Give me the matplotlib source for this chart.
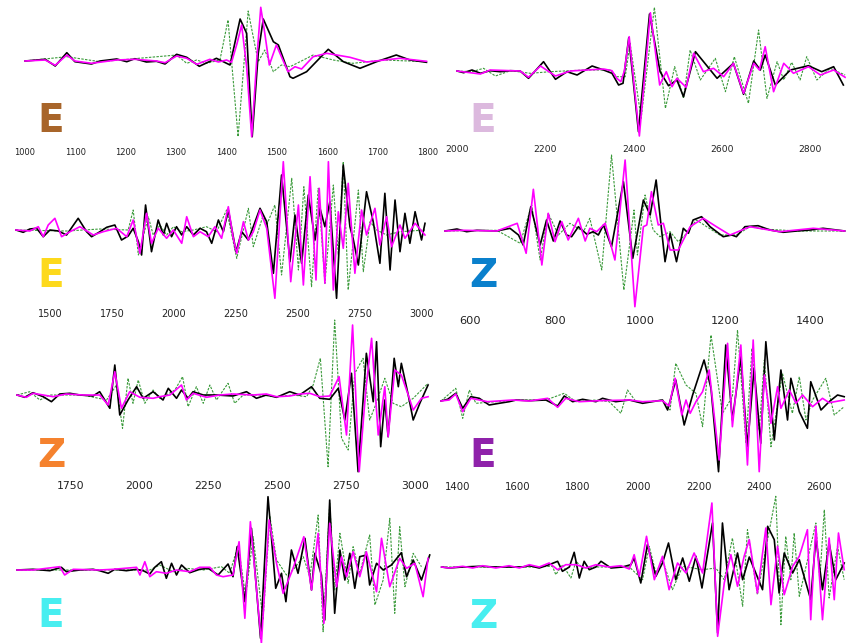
import matplotlib
matplotlib.use("Agg")
import matplotlib.pyplot as plt

W, H = 846, 643

# ---- waveforms: (time, amplitude) ----
# black = observed, magenta = synthetic 1, green dashed = synthetic 2
P1_OBS = [(1000, 0), (1040, 1.7), (1060, -5), (1083, 8.3), (1099, -0.7), (1132, -3), (1149, 0),
          (1182, 2), (1202, -0.7), (1218, 2.3), (1241, -1), (1261, -0.3), (1278, -3), (1301, 6.7),
          (1321, 3.7), (1346, -5.3), (1380, 2.7), (1407, -4), (1427, 42), (1440, 27.7), (1451, -75.7),
          (1463, 7.7), (1473, 42), (1493, 19.3), (1503, 16), (1526, -15.7), (1532, -17.3),
          (1559, -10.7), (1602, 11.7), (1632, -0.7), (1665, -7.3), (1698, -0.7), (1737, 6),
          (1764, 1), (1797, -1.3)]
P1_SYN = [(1000, 0), (1040, 1), (1060, -4.3), (1083, 6), (1099, 0), (1132, -2.3), (1182, 1),
          (1218, 1.7), (1261, 0), (1278, -1.7), (1301, 5), (1321, 2.7), (1341, -3.3), (1367, 1.7),
          (1384, -1), (1400, 1), (1410, -1.3), (1421, 17.7), (1430, 36), (1440, -5.7), (1450, -75.7),
          (1460, 1), (1468, 53.7), (1476, 27.7), (1485, -4), (1499, 16), (1509, 4.3), (1522, -10.7),
          (1536, -5.7), (1549, -8), (1572, 4.3), (1599, 7.7), (1645, 3.7), (1678, -1), (1744, 2.7),
          (1797, -0.3)]
P1_ALT = [(1000, 0), (1083, 4.3), (1149, -0.7), (1301, 6), (1321, -2.3), (1341, 1), (1360, -2.3),
          (1387, 1), (1403, 41), (1423, -75.7), (1443, 50), (1453, 24.3), (1463, -0.7), (1476, 11),
          (1493, -10.7), (1509, -4), (1526, -5.7), (1546, -0.7), (1572, 6), (1612, 1), (1651, -2.3),
          (1711, 1), (1797, -0.7)]

P2_OBS = [(2000, 0), (2015, -1.7), (2034, 1), (2053, -2.3), (2075, 0.3), (2098, -0.7), (2121, 0.3),
          (2143, 0), (2162, -7.3), (2196, 9.3), (2223, -8.3), (2249, -0.7), (2272, -4), (2306, 5),
          (2332, 1), (2351, -2.3), (2366, -14), (2376, -12.3), (2389, 33.3), (2411, -60.7),
          (2436, 57), (2460, -0.7), (2479, -14.7), (2498, -9), (2513, -25.7), (2540, 19.3),
          (2589, -7.3), (2626, 7.7), (2649, -23.3), (2672, 10), (2687, 1), (2698, 16), (2721, -14),
          (2755, 1), (2796, 5.3), (2826, -0.7), (2853, 4.3), (2875, -14)]
P2_SYN = [(2000, 0), (2053, -3), (2075, 1), (2143, 0), (2162, -6.3), (2189, 5), (2223, -5),
          (2257, 0), (2294, 1), (2332, 2), (2351, 0.3), (2362, -7.3), (2371, -10.7), (2379, 0),
          (2390, 34.3), (2413, -65), (2438, 58.3), (2459, -14), (2474, -0.7), (2487, -15.7),
          (2498, -7.3), (2519, -16.3), (2536, 17.7), (2558, -0.7), (2581, 2.7), (2604, -5.7),
          (2626, 7.7), (2649, -22.3), (2672, 7.7), (2685, 1), (2698, 24.3), (2717, -20.7),
          (2740, 7.7), (2762, -2.3), (2796, 4.3), (2823, -4), (2853, 1), (2879, -6.3)]
P2_ALT = [(2000, 0), (2034, -0.7), (2060, 2.7), (2087, -5), (2121, 0.3), (2166, -2.3), (2211, -0.7),
          (2287, 1), (2347, 1), (2362, -5.7), (2381, -5.7), (2392, 27.7), (2417, -47.3), (2447, 63.7),
          (2472, -37.3), (2493, 4.3), (2513, -27.3), (2528, 21), (2551, -9), (2585, 12.7),
          (2608, -20.7), (2628, 14.3), (2660, -32.3), (2683, 41), (2702, -27.3), (2725, 9.3),
          (2740, -9), (2758, 8.7), (2777, -9), (2792, 14.3), (2815, -9), (2845, 2.7), (2879, -4)]

P3_OBS = [(1363, 0), (1392, -2.3), (1419, 1), (1446, 1.7), (1473, -6.7), (1500, 0), (1534, -1),
          (1567, -5), (1614, 11.7), (1648, -1.7), (1668, -6.7), (1702, -1.7), (1729, 2.7),
          (1762, 5), (1789, -10), (1816, -6), (1836, 1.7), (1857, -11.7), (1870, -25), (1886, 25),
          (1910, -21.7), (1937, 10), (1958, -5), (1971, 6.7), (1991, -6.7), (2011, 3.3),
          (2032, -5), (2052, 3.3), (2079, -5), (2106, 1.7), (2132, -1.7), (2153, -13.3),
          (2180, 10), (2200, -1.7), (2220, 20), (2240, -6.7), (2251, -21.7), (2274, -1.7),
          (2301, -10), (2348, 21.7), (2375, 8.3), (2402, -43.3), (2435, 55), (2469, -31.7),
          (2489, 15), (2516, -33.3), (2543, 35), (2570, -10), (2590, 21.7), (2610, 3.3),
          (2630, 28.3), (2657, -68.3), (2684, 65), (2711, 3.3), (2725, -10), (2745, -35),
          (2778, 38.3), (2805, 8.3), (2832, -33.3), (2852, 36.7), (2873, -40), (2893, 30),
          (2913, -21.7), (2933, 16.7), (2953, -13.3), (2974, 18.3), (3000, -10), (3014, 6.7)]
P3_SYN = [(1363, 0), (1419, -1), (1453, 3.3), (1473, -6.7), (1493, 5), (1520, 11.7), (1547, -6.7),
          (1581, -1.7), (1621, 3.3), (1675, -5), (1715, -1.7), (1769, 1.7), (1810, -6.7),
          (1836, 10), (1863, -23.3), (1890, 16.7), (1910, -13.3), (1937, 1.7), (1971, -8.3),
          (1998, 0), (2032, -13.3), (2052, 13.3), (2079, -6.7), (2106, -1.7), (2139, -6.7),
          (2166, 3.3), (2193, -8.3), (2220, 23.3), (2240, -8.3), (2254, -23.3), (2281, 8.3),
          (2301, -10), (2321, -1.7), (2348, 20), (2375, 1.7), (2408, -68.3), (2442, 68.3),
          (2472, -51.7), (2503, 25), (2523, -55), (2550, 53.3), (2574, -50), (2587, 41.7),
          (2610, -53.3), (2624, 68.3), (2644, -60), (2664, 18.3), (2684, -18.3), (2704, 46.7),
          (2731, -43.3), (2758, 20), (2778, -5), (2812, 21.7), (2832, -15), (2859, 13.3),
          (2879, -16.7), (2913, 5), (2933, -8.3), (2974, 6.7), (3014, -5)]
P3_ALT = [(1363, 0), (1567, -1), (1702, 1), (1816, 0), (1836, 20), (1857, -25), (1897, 13.3),
          (1917, -5), (1944, 5), (1971, -5), (1998, 3.3), (2032, -1.7), (2079, 0), (2132, 3.3),
          (2173, -1.7), (2213, 20), (2254, -28.3), (2301, 21.7), (2321, -16.7), (2361, 15),
          (2375, 5), (2408, 25), (2435, -45), (2476, 51.7), (2503, -40), (2525, 43.3),
          (2556, -56.7), (2583, 41.7), (2610, -53.3), (2644, 45), (2664, -25), (2684, 68.3),
          (2704, -60), (2745, 40), (2765, -41.7), (2792, 8.3), (2819, 0), (2859, -5),
          (2913, -1.7), (3014, 0)]

P4_OBS = [(541, 0), (569, 2), (592, -0.7), (616, 0.7), (663, 0), (694, 2.7), (714, -4), (725, -14),
          (743, 24.3), (765, -14), (780, 11), (796, -10), (812, 10), (827, -4), (839, -5.7),
          (855, 4.3), (875, -3.3), (890, -0.7), (902, -4), (914, 6), (933, -15.7), (961, 49.3),
          (983, -27.3), (1008, 31), (1024, 16), (1038, 51), (1047, 16), (1059, -30.7),
          (1071, -2.3), (1086, -30.7), (1102, 2.7), (1114, -2.3), (1125, 11), (1145, 14.3),
          (1165, 4.3), (1196, -5.7), (1216, -4), (1227, -5.7), (1247, 4.3), (1278, 5.3),
          (1306, 1), (1337, -1.3), (1369, 0), (1400, 1), (1431, 2.7), (1482, 0)]
P4_SYN = [(541, 0), (584, 0.7), (663, 0), (711, 7.7), (732, -22.3), (749, 41.7), (769, -34),
          (784, 17.7), (800, -10.7), (816, 9.3), (831, -9), (855, 12.7), (871, -10), (882, 2.7),
          (898, -0.7), (918, 7.7), (941, -29), (965, 71), (988, -75.7), (1008, 4.3), (1016, 6),
          (1027, 39.3), (1043, 6), (1055, 7.7), (1071, -19), (1090, -19), (1118, 4.3),
          (1149, 12.7), (1180, 4.3), (1212, -4), (1259, 4.3), (1290, 2), (1329, -0.7),
          (1408, 2.7), (1482, 0)]
P4_ALT = [(541, 0), (663, 0.7), (718, -12.3), (745, 26), (765, -29), (784, 17.7), (808, -4),
          (835, 7.7), (867, -0.7), (882, 12.7), (910, -39), (933, 76), (962, -59), (986, 21),
          (994, -24), (1012, 36), (1031, 1), (1047, -5.7), (1071, -0.7), (1090, -10.7),
          (1110, -2.3), (1133, 11), (1157, 4.3), (1188, -4), (1227, -4), (1259, 4.3), (1290, 2),
          (1369, 0), (1482, 0)]

P5_OBS = [(1556, 0), (1584, -2.3), (1614, 2.3), (1651, -1.7), (1681, -6.7), (1711, 1), (1748, 1.7),
          (1784, 0), (1832, -1), (1856, 3.3), (1893, -13.3), (1911, 30), (1929, -20), (1959, -5),
          (1990, 8.3), (2014, -3.3), (2050, 3.3), (2086, -5), (2105, 6.7), (2135, -3.3), (2153, 5),
          (2177, -3.3), (2195, 3.3), (2232, 0), (2280, 0), (2340, -1), (2389, 3.3), (2425, -3.3),
          (2461, 0), (2498, -2.3), (2546, 3.3), (2582, 0), (2625, 8.3), (2655, -3.3),
          (2691, -4.3), (2722, 6.7), (2746, -25), (2770, 21.7), (2794, -76.7), (2824, 41.7),
          (2849, -6.7), (2861, 53.3), (2876, -51.7), (2891, -5), (2903, -41.7), (2925, 36.7),
          (2940, 8.3), (2951, 31.7), (2976, 0), (2994, -25), (3018, -8.3), (3048, 10)]
P5_SYN = [(1556, 0), (1590, -2.3), (1614, 1.7), (1651, 0), (1687, -1.7), (1735, 1), (1796, 0),
          (1856, 0), (1887, -10), (1911, 23.3), (1935, -13.3), (1965, 3.3), (2002, -2.3),
          (2050, -3.3), (2074, -1.7), (2111, 0), (2153, 10), (2171, -5), (2195, 1.7), (2244, -2.3),
          (2292, 0), (2340, 1), (2413, 0), (2461, 1), (2498, -1.7), (2546, -1), (2582, 1),
          (2619, 1.7), (2655, -1.7), (2691, -1), (2725, 18.3), (2752, -40), (2774, 70),
          (2798, -76.7), (2822, 5), (2843, 56.7), (2867, -40), (2891, 8.3), (2903, -41.7),
          (2927, 25), (2951, 20), (2976, 0), (2994, -15), (3024, -3.3), (3048, -1.7)]
P5_ALT = [(1556, 0), (1602, 3.3), (1639, -5), (1675, 0), (1796, 0), (1881, -5), (1917, 10),
          (1939, -33.3), (1959, 16.7), (1977, -8.3), (1996, 15), (2020, -8.3), (2050, 5),
          (2074, -3.3), (2098, 0), (2129, 5), (2157, 18.3), (2177, -11.7), (2207, 8.3),
          (2232, -8.3), (2256, 10), (2280, -5), (2322, 11.7), (2346, -8.3), (2377, 0), (2437, 0),
          (2498, -1.7), (2558, 0), (2607, -1.7), (2631, 10), (2657, 36.7), (2685, -71.7),
          (2709, 75), (2734, -43.3), (2758, -55), (2782, 21.7), (2812, 36.7), (2836, -25),
          (2855, -11.7), (2891, 16.7), (2921, -8.3), (2951, -11.7), (2994, -3.3), (3048, 11.7)]

P6_OBS = [(1345, 0), (1367, 1.7), (1394, 7.7), (1417, -7.3), (1444, 4.3), (1472, 2.7), (1505, -4),
          (1538, -2.3), (1571, -0.7), (1594, 1), (1638, 0.3), (1693, 1), (1732, -5), (1754, 5),
          (1782, -0.7), (1815, 1.7), (1859, -0.7), (1881, 2.7), (1925, -0.7), (1970, 1),
          (2014, -2.3), (2080, 1), (2097, -9), (2124, 21), (2152, -24), (2180, 6), (2218, 41),
          (2241, 12.7), (2266, -70.7), (2290, 56), (2312, -19), (2340, 44.3), (2362, -45.7),
          (2384, 32.7), (2406, -42.3), (2423, 59.3), (2451, -39), (2473, 31), (2495, -19),
          (2506, 22.7), (2534, -10.7), (2561, -27.3), (2572, 19.3), (2606, -9), (2633, -0.7),
          (2661, 6), (2683, 4.3)]
P6_SYN = [(1345, 0), (1372, 1), (1394, 7), (1417, -10.7), (1444, 2.7), (1500, -0.7), (1582, 1),
          (1638, 0), (1699, 2.7), (1732, -6.3), (1759, 2.7), (1804, -0.7), (1870, 0.3), (1970, 1),
          (2014, -0.7), (2080, 0.3), (2102, -5), (2122, 22.7), (2144, -14), (2158, 1),
          (2172, -12.3), (2191, -0.7), (2213, 9.3), (2235, 31), (2268, -59), (2296, 57.7),
          (2312, -25.7), (2340, 56), (2362, -64), (2381, 61), (2401, -70.7), (2418, 26),
          (2440, -22.3), (2462, 14.3), (2473, -7.3), (2501, 11), (2523, -2.3), (2545, 6),
          (2578, -5.7), (2611, 2.7), (2633, -1.7), (2683, 1)]
P6_ALT = [(1345, 0), (1394, 12.7), (1417, -17.3), (1439, 11), (1461, -2.3), (1527, -0.7), (1616, 1),
          (1693, 1), (1754, 7.7), (1793, -0.7), (1859, 1), (1903, -0.7), (1942, -12.3), (1964, 11),
          (1992, -0.7), (2036, -0.7), (2080, 1), (2105, -9), (2124, 37.7), (2158, 16), (2191, 7.7),
          (2213, -25.7), (2241, 66), (2279, -12.3), (2312, 4.3), (2329, 71), (2357, -42.3),
          (2377, 52.7), (2401, -29), (2418, 41), (2440, -45.7), (2478, 27.7), (2511, -12.3),
          (2534, 24.3), (2556, -19), (2578, 1), (2622, 22.7), (2650, -14), (2683, -5.7)]

P7_OBS = [(1556, 0), (1614, 0.7), (1675, -0.7), (1717, 2.7), (1735, -1.7), (1784, 0), (1832, 0.7),
          (1856, -0.7), (1887, -3.3), (1911, 0.7), (1953, -0.7), (1990, 0.7), (2014, -0.7),
          (2038, -4), (2056, 2.7), (2080, 8.3), (2098, -8.3), (2117, 6.7), (2135, -5), (2153, 5),
          (2183, -2.7), (2219, 0.7), (2250, 1.7), (2286, -5), (2322, 6), (2340, -6.7), (2355, 23.3),
          (2383, -31.7), (2407, 41.7), (2440, -68.3), (2467, 73.3), (2495, -18.3), (2516, -3.3),
          (2532, -31.7), (2552, 20), (2576, -3.3), (2601, 31.7), (2625, -20), (2637, 16.7),
          (2661, -5), (2673, -50), (2691, 70), (2709, -43.3), (2728, 20), (2746, -10),
          (2764, 16.7), (2782, -18.3), (2800, 13.3), (2824, 15), (2836, -15), (2861, 6.7),
          (2885, 0), (2915, 5), (2951, 17.3), (2970, -6.7), (2994, 10), (3024, -10), (3054, 15)]
P7_SYN = [(1556, 0), (1614, 0), (1711, 3.3), (1729, -5), (1760, 0.7), (1856, 0), (1905, 0.7),
          (1990, 2.7), (2002, -5), (2020, 8.3), (2038, -6.7), (2062, -1.7), (2098, -3.3), (2135, 0),
          (2183, -1.7), (2219, 2.7), (2256, 2.7), (2280, -5), (2304, -6.7), (2340, -5),
          (2362, 28.3), (2383, -48.3), (2403, 48.3), (2443, -73.3), (2471, 50), (2498, 6.7),
          (2522, -23.3), (2558, 1.7), (2597, 33.3), (2625, -20), (2649, 36.7), (2670, -53.3),
          (2691, 46.7), (2716, -16.7), (2734, 13.3), (2752, -6.7), (2776, 18.3), (2800, -6.7),
          (2824, 18.3), (2861, -21.7), (2879, 31.7), (2909, -16.7), (2945, 11.7), (2970, 1.7),
          (3000, 6.7), (3030, -26.7), (3048, 11.7)]
P7_ALT = [(1556, 0), (1856, 0), (2038, 0), (2074, 5), (2123, -1.7), (2171, 1.7), (2232, 0),
          (2298, 3.3), (2328, -3.3), (2359, 25), (2386, -26.7), (2413, 33.3), (2449, -50),
          (2474, 53.3), (2498, 10), (2534, -5), (2558, 0), (2595, 13.3), (2619, -6.7), (2649, 55),
          (2667, -61.7), (2691, 66.7), (2709, -20), (2728, 36.7), (2758, -13.3), (2776, 23.3),
          (2800, -3.3), (2836, 35), (2855, -35), (2885, -10), (2909, 51.7), (2927, -43.3),
          (2945, 43.3), (2964, -16.7), (2994, 16.7), (3024, 3.3)]

P8_OBS = [(1347, 0), (1372, -1), (1417, 0), (1472, 0.7), (1527, 0), (1616, 0), (1638, 1.3),
          (1671, -1), (1704, 2.3), (1732, 5.7), (1748, -4.3), (1771, 0), (1787, 14.7), (1804, -11),
          (1820, 5.7), (1837, -2.7), (1859, 0), (1876, 5.7), (1909, -1), (1947, 0), (1975, 2.3),
          (1986, 9), (2008, -16), (2030, 22.3), (2058, -9.3), (2080, 4), (2100, 24), (2124, -12.7),
          (2147, 9), (2169, -14.3), (2191, 10.7), (2211, -21), (2246, 44), (2263, -66), (2279, 44),
          (2301, -22.7), (2329, 14), (2346, -12.7), (2368, 10), (2412, -22.7), (2429, 40.7),
          (2451, 27.3), (2467, -26), (2484, 14), (2512, -6), (2534, 7.3), (2572, -32.7),
          (2589, 29), (2611, -22.7), (2633, 24), (2655, -12.7), (2683, 4)]
P8_SYN = [(1347, 0), (1372, -1), (1417, 0.7), (1450, -1), (1483, 1.3), (1527, -1), (1571, 1.3),
          (1605, -1), (1638, 2.3), (1671, 0), (1704, 4), (1732, -2.7), (1759, 2.3), (1793, 2.3),
          (1826, -1), (1859, 2.3), (1903, 0), (1942, 1.3), (1970, -2), (1986, 12.3), (2003, -9.3),
          (2027, 30.7), (2053, -12.7), (2080, 10.7), (2102, -22.7), (2130, 4), (2158, -6),
          (2185, 14), (2213, -6), (2244, 64), (2263, -69.3), (2285, -16), (2307, 12.3),
          (2329, -19.3), (2351, 10.7), (2368, 27.3), (2395, -26), (2423, 39), (2440, -37.7),
          (2462, 20.7), (2484, -27.7), (2512, 0.7), (2534, 10.7), (2561, 37.3), (2572, -52.7),
          (2589, 40.7), (2611, -52.7), (2633, 29), (2650, -32.7), (2664, 34), (2683, -2.7)]
P8_ALT = [(1347, 0), (1638, 0), (1715, 0.7), (1726, -7.7), (1748, 2.3), (1776, -11), (1793, 5.7),
          (1815, -1), (1859, 0), (1970, 0), (2014, -12.7), (2036, 20.7), (2058, -6), (2080, 7.3),
          (2113, -22.7), (2147, 0.7), (2213, -2.7), (2257, -1), (2285, -12.7), (2312, 29),
          (2346, -39.3), (2362, 37.3), (2395, -27.7), (2412, 0.7), (2456, 70.7), (2473, -57.7),
          (2489, 30.7), (2506, -12.7), (2517, 34), (2534, -29.3), (2589, 44), (2602, -12.7),
          (2617, 57.3), (2633, -31), (2661, 20.7), (2683, -12.7)]

COMPONENTS = ["E", "E", "E", "Z", "Z", "E", "E", "Z"]
COMP_COLORS = ["#a8652a", "#dcb9de", "#fdd91c", "#0a80cc", "#f5822e", "#8f22aa", "#48eef0", "#48eef0"]
TICKS = [range(1000, 1801, 100), range(2000, 2801, 200), range(1500, 3001, 250),
         range(600, 1401, 200), range(1750, 3001, 250), range(1400, 2601, 200), [], []]

# layout in figure pixels: (left, right, bottom, baseline, xmin, xmax, tick font size)
LAYOUT = [
    (25, 428, 145, 61, 1000, 1800, 6.0),
    (457, 846, 142, 71, 2000, 2881, 6.6),
    (16, 425, 306, 230, 1363, 3014, 7.0),
    (445, 846, 313, 231, 541, 1485, 8.2),
    (17, 430, 478, 395, 1556, 3055, 7.8),
    (441, 846, 479, 401, 1345, 2689, 7.3),
    (17, 430, 643, 570, 1556, 3055, 7.5),
    (441, 846, 643, 567, 1345, 2689, 7.3),
]
LABEL_POS = [(37, 132), (469, 132), (37, 287), (469, 287), (37, 467), (469, 467), (37, 627), (469, 628)]

TRACES = [(P1_OBS, P1_SYN, P1_ALT), (P2_OBS, P2_SYN, P2_ALT), (P3_OBS, P3_SYN, P3_ALT),
          (P4_OBS, P4_SYN, P4_ALT), (P5_OBS, P5_SYN, P5_ALT), (P6_OBS, P6_SYN, P6_ALT),
          (P7_OBS, P7_SYN, P7_ALT), (P8_OBS, P8_SYN, P8_ALT)]

fig = plt.figure(figsize=(W / 100, H / 100), dpi=100)
fig.patch.set_facecolor("white")

for i, (x0, x1, yb, base, tmin, tmax, fs) in enumerate(LAYOUT):
    ytop = base - 80
    ax = fig.add_axes([x0 / W, 1 - yb / H, (x1 - x0) / W, (yb - ytop) / H])
    ax.patch.set_alpha(0)
    ax.set_xlim(tmin, tmax)
    ax.set_ylim(base - yb, base - ytop)
    for s in ax.spines.values():
        s.set_visible(False)
    ax.set_yticks([])
    ax.set_xticks(list(TICKS[i]))
    ax.tick_params(axis="x", length=0, pad=2.5, labelsize=fs, labelcolor="#222222")

    obs, syn, alt = TRACES[i]
    ax.plot([p[0] for p in alt], [p[1] for p in alt], color="#3a9a3a", lw=0.8,
            dashes=(2.2, 1.2), clip_on=False, zorder=2)
    ax.plot([p[0] for p in obs], [p[1] for p in obs], color="black", lw=1.2,
            clip_on=False, zorder=3)
    ax.plot([p[0] for p in syn], [p[1] for p in syn], color="#ff00ff", lw=1.2,
            clip_on=False, zorder=4)

    lx, ly = LABEL_POS[i]
    fig.text(lx / W, 1 - ly / H, COMPONENTS[i], color=COMP_COLORS[i], fontsize=28,
             fontweight="bold", ha="left", va="baseline")

fig.savefig("out.png", dpi=100)
